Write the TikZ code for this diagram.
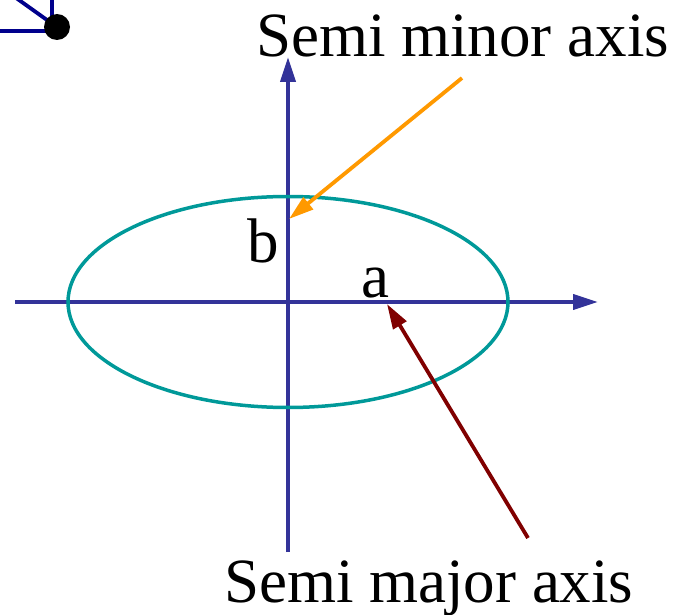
\documentclass[tikz,border=0pt]{standalone}
\usepackage{fontspec}
\setmainfont{Liberation Serif}
\usetikzlibrary{arrows.meta,positioning}

\definecolor{axisblue}{RGB}{51,51,153}
\definecolor{orbitteal}{RGB}{0,153,153}
\definecolor{minororange}{RGB}{255,153,0}
\definecolor{majorred}{RGB}{128,0,0}
\definecolor{cornernavy}{RGB}{0,0,140}

\begin{document}
\begin{tikzpicture}[
  x=1pt, y=-1pt,
  font=\fontsize{63}{63}\selectfont,
  axisline/.style={line width=3.8pt, color=axisblue, -{Triangle[length=25pt,width=15pt]}},
  pointer/.style={line width=3.8pt, -{Triangle[length=25pt,width=15pt]}},
  label/.style={anchor=base west, inner sep=0pt, outer sep=0pt}
]

  \useasboundingbox (0,0) rectangle (673,615);

  % Corner fragment
  \draw [line width=3.8pt, cornernavy] (-5,31) -- (50,31);
  \draw [line width=3.8pt, cornernavy] (52,-5) -- (52,27);
  \draw [line width=3.8pt, cornernavy] (12,-5) -- (54,25);
  \fill [black] (57,27) circle (13);

  % Axes
  \coordinate (origin) at (288,302);
  \coordinate (xstart) at (15,302);
  \coordinate (xend) at (598,302);
  \coordinate (ystart) at (288,552);
  \coordinate (yend) at (288,57);
  \draw [axisline] (xstart) -- (xend);
  \draw [axisline] (ystart) -- (yend);

  % Ellipse
  \draw [line width=3.5pt, orbitteal] (origin) ellipse [x radius=220, y radius=105.5];

  % Labels
  \node (minor) at (256,57) [label] {Semi minor axis};
  \node (major) at (224,602) [label] {Semi major axis};
  \node (b) at (247,262) [label] {b};
  \node (a) at (361,298) [label] {a};

  % Pointers
  \coordinate (minorfrom) at (462,78);
  \coordinate (minorto) at (289,219);
  \coordinate (majorfrom) at (528,538);
  \coordinate (majorto) at (387,304);
  \draw [pointer, minororange] (minorfrom) -- (minorto);
  \draw [pointer, majorred] (majorfrom) -- (majorto);

\end{tikzpicture}
\end{document}
